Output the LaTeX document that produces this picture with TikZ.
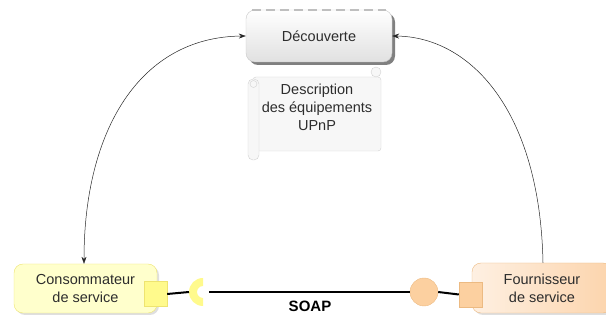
\documentclass[tikz,border=0pt]{standalone}
\usepackage{fontspec}
\setmainfont{Liberation Sans}
\usepackage{tikz}
\usetikzlibrary{arrows.meta,positioning,shadows}
\definecolor{inktext}{RGB}{45,45,45}
\definecolor{consfill}{RGB}{255,255,204}
\definecolor{consedge}{RGB}{238,228,112}
\definecolor{consport}{RGB}{255,250,140}
\definecolor{fournfill}{RGB}{252,212,172}
\definecolor{fournedge}{RGB}{236,186,130}
\definecolor{fournport}{RGB}{252,208,160}
\definecolor{discedge}{RGB}{200,200,200}
\definecolor{scrollfill}{RGB}{247,247,247}

\begin{document}
\begin{tikzpicture}[x=1pt, y=-1pt,
  font=\fontsize{14.5}{18}\selectfont, text=inktext,
  discbox/.style={draw=discedge, rounded corners=9pt, top color=white, bottom color=black!12,
              align=center, minimum width=146pt, minimum height=52pt,
              drop shadow={shadow xshift=3pt, shadow yshift=-3pt, fill=black!50, opacity=1}},
  consbox/.style={draw=consedge, rounded corners=9pt, fill=consfill, align=center,
              minimum width=143pt, minimum height=49pt,
              drop shadow={shadow xshift=2pt, shadow yshift=-2pt, opacity=0.25}},
  fournbox/.style={draw=fournedge, rounded corners=9pt, left color=fournfill!35, right color=fournfill,
              align=center, minimum width=140pt, minimum height=50pt,
              drop shadow={shadow xshift=2pt, shadow yshift=-2pt, opacity=0.25}},
  portbox/.style={draw=#1edge, fill=#1port, minimum width=23pt, minimum height=25pt, inner sep=0pt},
  arr/.style={-{Stealth[length=7pt, width=5pt]}, line width=0.5pt, color=black!85},
  wire/.style={line width=2pt, color=black}]
\useasboundingbox (0,0) rectangle (606,320);
% discovery and description
\node[discbox] (disc) at (319,36) {D\'ecouverte};
\draw[dashed, dash pattern=on 9pt off 5pt, line width=2pt, color=black!25]
  ([xshift=6pt]disc.north west) -- ([xshift=-6pt]disc.north east);
\filldraw[draw=black!18, fill=scrollfill, rounded corners=3pt] (253,77) rectangle (381,151);
\filldraw[draw=black!18, fill=scrollfill] (376,72) circle[radius=5];
\filldraw[draw=black!18, fill=scrollfill, rounded corners=5pt] (248,79) rectangle (259,160);
\draw[black!18] (253.5,84) circle[radius=3.5];
\node[align=center] (desc) at (317,107) {Description\\des \'equipements\\UPnP};
% consumer and provider
\node[consbox] (cons) at (85.5,288.5) {Consommateur\\de service};
\node[fournbox] (fourn) at (542,288) {Fournisseur\\de service};
\node[portbox=cons] (csq) at (155.5,294) {};
\node[portbox=fourn] (fsq) at (470.5,294.5) {};
\node[circle, draw=fournedge, fill=fournport, minimum size=28pt, inner sep=0pt] (circ) at (424,292) {};
\coordinate (sockL) at (189,292);
\coordinate (sockR) at (209,292);
\fill[consport] (203,278) arc[start angle=270, end angle=90, radius=14]
  -- (203,298) arc[start angle=90, end angle=270, radius=6] -- cycle;
\draw[wire] (csq.east) -- (sockL);
\draw[wire, line width=2.5pt] (sockR) -- (circ.west);
\draw[wire] (circ.east) -- (fsq.west);
\node[font=\fontsize{15}{18}\selectfont\bfseries, text=black] (soap) at (310,306) {SOAP};
% discovery links
\draw[arr, {Stealth[length=7pt, width=5pt]}-{Stealth[length=7pt, width=5pt]}]
  (disc.west) .. controls (140,37) and (84,130) .. ([xshift=-1.5pt]cons.north);
\draw[arr] ([xshift=1pt]fourn.north) .. controls (540,110) and (470,37) .. (disc.east);
\end{tikzpicture}
\end{document}
